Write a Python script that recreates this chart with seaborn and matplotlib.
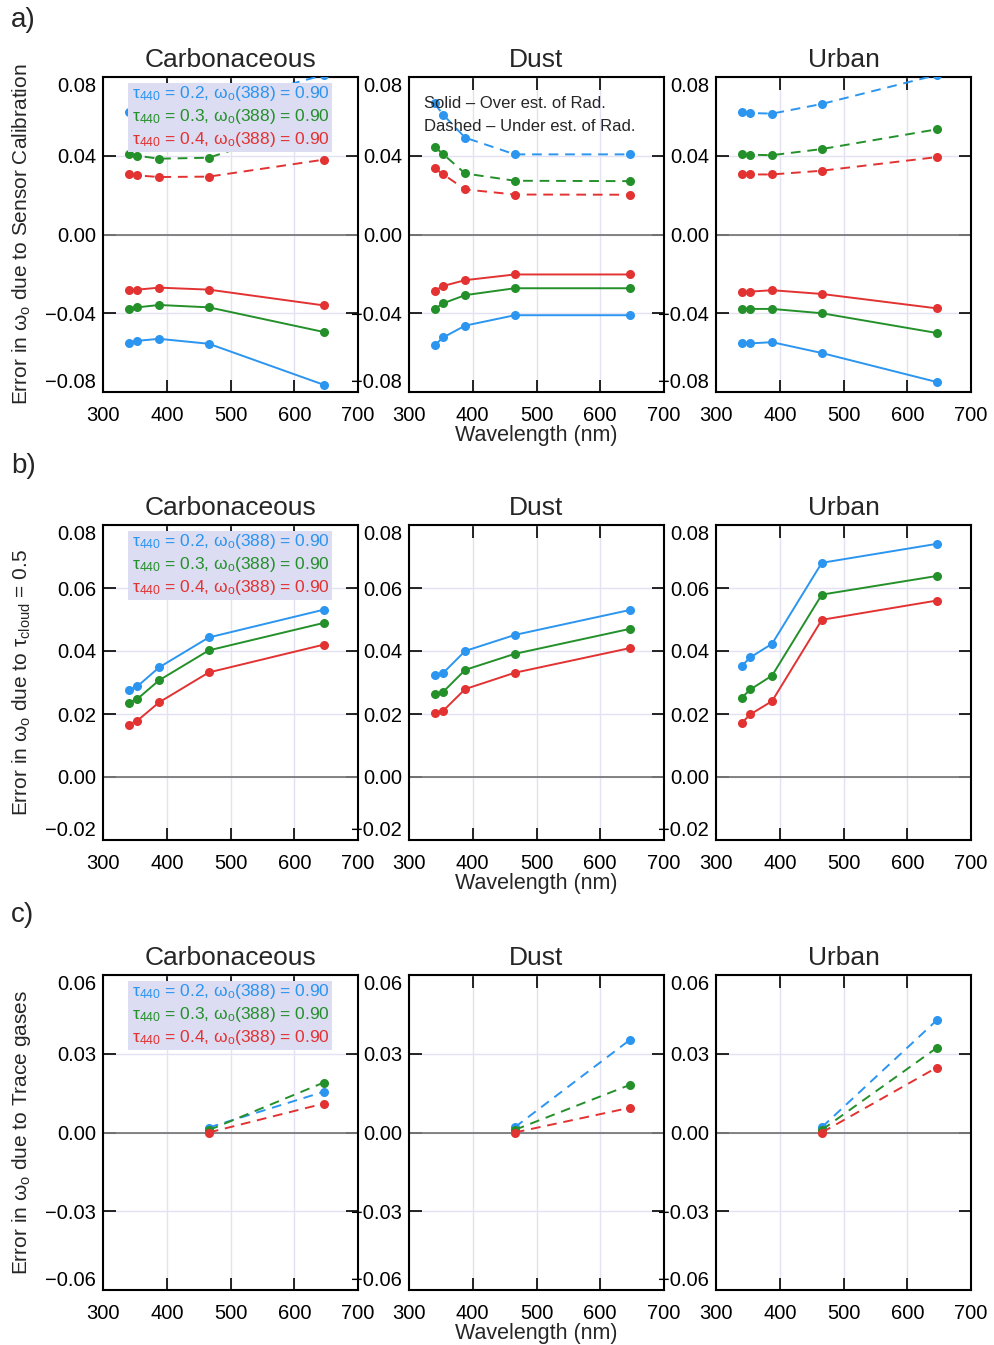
import matplotlib
matplotlib.use("Agg")
import matplotlib.pyplot as plt
import numpy as np
import pandas as pd
import seaborn as sns
from matplotlib.patches import Rectangle
from matplotlib.ticker import FuncFormatter

# wavelengths (nm)
wl = [340, 354, 388, 466, 646]
wl_gas = [466, 646]
taus = ["0.2", "0.3", "0.4"]
colors = ["#2b95f0", "#24902a", "#e23232"]
aerosols = ["Carbonaceous", "Dust", "Urban"]

# a) sensor calibration: dashed = under est. of rad (positive), solid = over est. (negative)
# rows: tau 0.2, 0.3, 0.4
carb_cal_under = [[0.062, 0.062, 0.061, 0.065, 0.081],
                  [0.041, 0.040, 0.0385, 0.039, 0.058],
                  [0.0307, 0.030, 0.0292, 0.0294, 0.038]]
carb_cal_over = [[-0.055, -0.054, -0.053, -0.0555, -0.0763],
                 [-0.0376, -0.037, -0.0358, -0.037, -0.0495],
                 [-0.0284, -0.028, -0.027, -0.028, -0.036]]
dust_cal_under = [[0.0666, 0.0607, 0.0492, 0.0407, 0.0407],
                  [0.0446, 0.0407, 0.031, 0.0273, 0.0271],
                  [0.0337, 0.0305, 0.0229, 0.0203, 0.0202]]
dust_cal_over = [[-0.0563, -0.0522, -0.0463, -0.041, -0.041],
                 [-0.0378, -0.0349, -0.0308, -0.0273, -0.0273],
                 [-0.0286, -0.0261, -0.0232, -0.0203, -0.0203]]
urb_cal_under = [[0.062, 0.0617, 0.0614, 0.0663, 0.081],
                 [0.0407, 0.0405, 0.0403, 0.0434, 0.0534],
                 [0.0305, 0.0305, 0.0305, 0.0324, 0.0393]]
urb_cal_over = [[-0.0553, -0.0553, -0.0547, -0.0602, -0.0749],
                [-0.0378, -0.0378, -0.0378, -0.040, -0.050],
                [-0.029, -0.029, -0.0283, -0.0302, -0.0375]]

# b) cloud contamination (tau_cloud = 0.5)
carb_cloud = [[0.0276, 0.0288, 0.0348, 0.0443, 0.0531],
              [0.0236, 0.0248, 0.0307, 0.0402, 0.0489],
              [0.0166, 0.0179, 0.0237, 0.0332, 0.042]]
dust_cloud = [[0.0324, 0.0331, 0.040, 0.0451, 0.053],
              [0.0263, 0.0271, 0.034, 0.0391, 0.047],
              [0.0202, 0.0211, 0.0279, 0.0331, 0.0409]]
urb_cloud = [[0.0352, 0.038, 0.0423, 0.068, 0.074],
             [0.0251, 0.0278, 0.0322, 0.0579, 0.0638],
             [0.0171, 0.0199, 0.0241, 0.0499, 0.056]]

# c) trace gases (466, 646 nm)
carb_gas = [[0.0019, 0.0155], [0.0009, 0.019], [0.0, 0.011]]
dust_gas = [[0.002, 0.0352], [0.001, 0.0181], [0.0, 0.0094]]
urb_gas = [[0.002, 0.0427], [0.001, 0.0322], [0.0, 0.0247]]

sns.set_theme(style="ticks")
plt.rcParams["font.family"] = ["Liberation Sans", "DejaVu Sans"]
plt.rcParams["mathtext.fontset"] = "custom"
plt.rcParams["mathtext.rm"] = "Liberation Sans"
plt.rcParams["mathtext.it"] = "Liberation Sans"
plt.rcParams["axes.unicode_minus"] = True


def to_long(x, rows, kind):
    recs = []
    for tau, vals in zip(taus, rows):
        for xi, v in zip(x, vals):
            recs.append({"wl": xi, "err": v, "tau": tau, "kind": kind})
    return recs


W, H = 994, 1345
fig = plt.figure(figsize=(W / 100, H / 100), dpi=100)

col_left = [103, 409, 716]
ax_w = 255
row_top = [77, 525, 975]
ax_h = 315
letter_y = [20, 466, 915]

rows_cfg = [
    dict(data=[(carb_cal_under, carb_cal_over), (dust_cal_under, dust_cal_over), (urb_cal_under, urb_cal_over)],
         ylim=(-0.08, 0.08), yticks=[-0.08, -0.04, 0.0, 0.04, 0.08],
         ylabel=r"Error in ω$_\mathrm{o}$ due to Sensor Calibration", letter="a)"),
    dict(data=[carb_cloud, dust_cloud, urb_cloud],
         ylim=(-0.02, 0.08), yticks=[-0.02, 0.0, 0.02, 0.04, 0.06, 0.08],
         ylabel=r"Error in ω$_\mathrm{o}$ due to τ$_\mathrm{cloud}$ = 0.5", letter="b)"),
    dict(data=[carb_gas, dust_gas, urb_gas],
         ylim=(-0.06, 0.06), yticks=[-0.06, -0.03, 0.0, 0.03, 0.06],
         ylabel=r"Error in ω$_\mathrm{o}$ due to Trace gases", letter="c)"),
]

fmt = FuncFormatter(lambda v, p: ("%.2f" % v).replace("-", "\u2212") if abs(v) > 1e-9 else "0.00")
palette = dict(zip(taus, colors))

for r, cfg in enumerate(rows_cfg):
    fig.text(11 / W, 1 - letter_y[r] / H, cfg["letter"], fontsize=20, va="center", ha="left")
    for c in range(3):
        ax = fig.add_axes([col_left[c] / W, 1 - (row_top[r] + ax_h) / H, ax_w / W, ax_h / H])
        if r == 0:
            under, over = cfg["data"][c]
            recs = to_long(wl, under, "dashed") + to_long(wl, over, "solid")
        elif r == 1:
            recs = to_long(wl, cfg["data"][c], "solid")
        else:
            recs = to_long(wl_gas, cfg["data"][c], "dashed")
        df = pd.DataFrame(recs)
        sns.lineplot(data=df, x="wl", y="err", hue="tau", style="kind", palette=palette,
                     dashes={"solid": "", "dashed": (5, 3.5)}, markers={"solid": "o", "dashed": "o"},
                     markersize=6.5, markeredgewidth=0, linewidth=1.4, legend=False, ax=ax, zorder=3)
        ax.set_xlim(300, 700)
        ax.set_ylim(*cfg["ylim"])
        ax.set_xticks([300, 400, 500, 600, 700])
        ax.set_yticks(cfg["yticks"])
        ax.yaxis.set_major_formatter(fmt)
        ax.grid(True, color="#e2e2f4", linewidth=1.0, zorder=0)
        ax.axhline(0, color="#7a7a7a", linewidth=1.3, zorder=2)
        ax.tick_params(direction="in", length=9, width=1.2, top=True, right=True,
                       labelsize=14.5, colors="black")
        ax.tick_params(axis="x", pad=10)
        ax.tick_params(axis="y", pad=5)
        for s in ax.spines.values():
            s.set_linewidth(1.5)
            s.set_color("black")
        ax.set_title(aerosols[c], fontsize=19, pad=7)
        ax.set_xlabel("Wavelength (nm)" if c == 1 else "", fontsize=15.5, labelpad=0)
        if c == 0:
            ax.set_ylabel(cfg["ylabel"], fontsize=15, labelpad=9)
            # legend box
            ax.add_patch(Rectangle((0.098, 0.762), 0.80, 0.218, transform=ax.transAxes,
                                   facecolor="#dcdcf2", edgecolor="none", zorder=5))
            for k, (tau, col) in enumerate(zip(taus, colors)):
                ax.text(0.112, 0.947 - k * 0.073,
                        r"τ$_{440}$ = %s, ω$_\mathrm{o}$(388) = 0.90" % tau,
                        transform=ax.transAxes, color=col, fontsize=12.5,
                        va="center", ha="left", zorder=6)
        else:
            ax.set_ylabel("")
        if r == 0 and c == 1:
            ax.text(0.06, 0.917, "Solid \u2013 Over est. of Rad.", transform=ax.transAxes,
                    fontsize=12, va="center", ha="left", zorder=6)
            ax.text(0.06, 0.844, "Dashed \u2013 Under est. of Rad.", transform=ax.transAxes,
                    fontsize=12, va="center", ha="left", zorder=6)
        # keep end labels inside the axis range, as in the original
        ylabs = ax.get_yticklabels()
        ylabs[0].set_va("bottom")
        ylabs[-1].set_va("top")

fig.savefig("out.png", dpi=100)
